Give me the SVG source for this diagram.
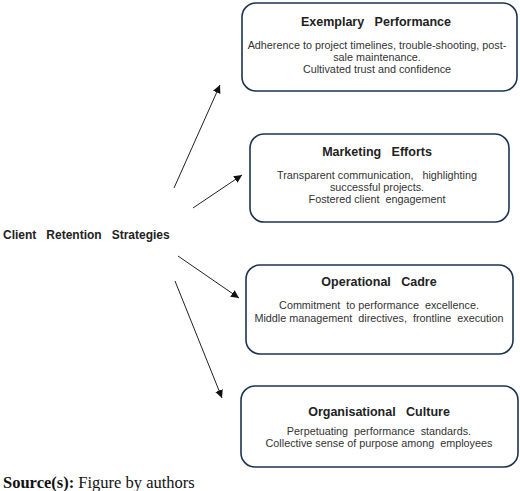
<svg xmlns="http://www.w3.org/2000/svg" width="520" height="491" viewBox="0 0 520 491">
<style>
.box{fill:#fff;stroke:#1d3352;stroke-width:1.6}
.t{font-family:"Liberation Sans",Arial,sans-serif;font-weight:bold;font-size:12.5px;fill:#222;text-anchor:middle}
.b{font-family:"Liberation Sans",Arial,sans-serif;font-size:10.8px;fill:#333;text-anchor:middle}
.c{stroke:#222;stroke-width:1;fill:none;marker-end:url(#ah)}
</style>
<defs>
<marker id="ah" viewBox="0 0 10 10" refX="10" refY="5" markerWidth="8" markerHeight="8" markerUnits="userSpaceOnUse" orient="auto">
<path d="M0,0 L10,5 L0,10 z" fill="#111"/>
</marker>
</defs>
<rect width="520" height="491" fill="#fff"/>
<g id="connectors">
<line class="c" x1="174" y1="188" x2="220" y2="85"/>
<line class="c" x1="193" y1="208" x2="242" y2="175"/>
<line class="c" x1="178" y1="256" x2="239" y2="298"/>
<line class="c" x1="175" y1="281" x2="222" y2="398"/>
</g>
<g id="root">
<text x="3" y="239" font-family="'Liberation Sans',Arial,sans-serif" font-weight="bold" font-size="12" fill="#222" xml:space="preserve">Client   Retention   Strategies</text>
</g>
<g id="n1">
<rect class="box" x="242" y="3" width="275" height="88" rx="14"/>
<text class="t" x="376" y="26" xml:space="preserve">Exemplary   Performance</text>
<text class="b" x="377" y="49">Adherence to project timelines, trouble-shooting, post-</text>
<text class="b" x="377" y="61">sale maintenance.</text>
<text class="b" x="377" y="73">Cultivated trust and confidence</text>
</g>
<g id="n2">
<rect class="box" x="250" y="134" width="259" height="88" rx="14"/>
<text class="t" x="377" y="156" xml:space="preserve">Marketing   Efforts</text>
<text class="b" x="377" y="179" xml:space="preserve">Transparent communication,   highlighting</text>
<text class="b" x="377" y="191">successful projects.</text>
<text class="b" x="377" y="203" xml:space="preserve">Fostered client  engagement</text>
</g>
<g id="n3">
<rect class="box" x="246" y="265" width="267" height="89" rx="14"/>
<text class="t" x="379" y="286" xml:space="preserve">Operational   Cadre</text>
<text class="b" x="379" y="309" xml:space="preserve">Commitment  to performance  excellence.</text>
<text class="b" x="379" y="322" xml:space="preserve">Middle management  directives,  frontline  execution</text>
</g>
<g id="n4">
<rect class="box" x="241" y="386" width="277" height="81" rx="14"/>
<text class="t" x="379" y="416" xml:space="preserve">Organisational   Culture</text>
<text class="b" x="379" y="435" xml:space="preserve">Perpetuating  performance  standards.</text>
<text class="b" x="379" y="447" xml:space="preserve">Collective sense of purpose among  employees</text>
</g>
<text x="3" y="488" font-family="'Liberation Serif','Times New Roman',serif" font-size="16.5" fill="#111"><tspan font-weight="bold">Source(s):</tspan> Figure by authors</text>
</svg>
